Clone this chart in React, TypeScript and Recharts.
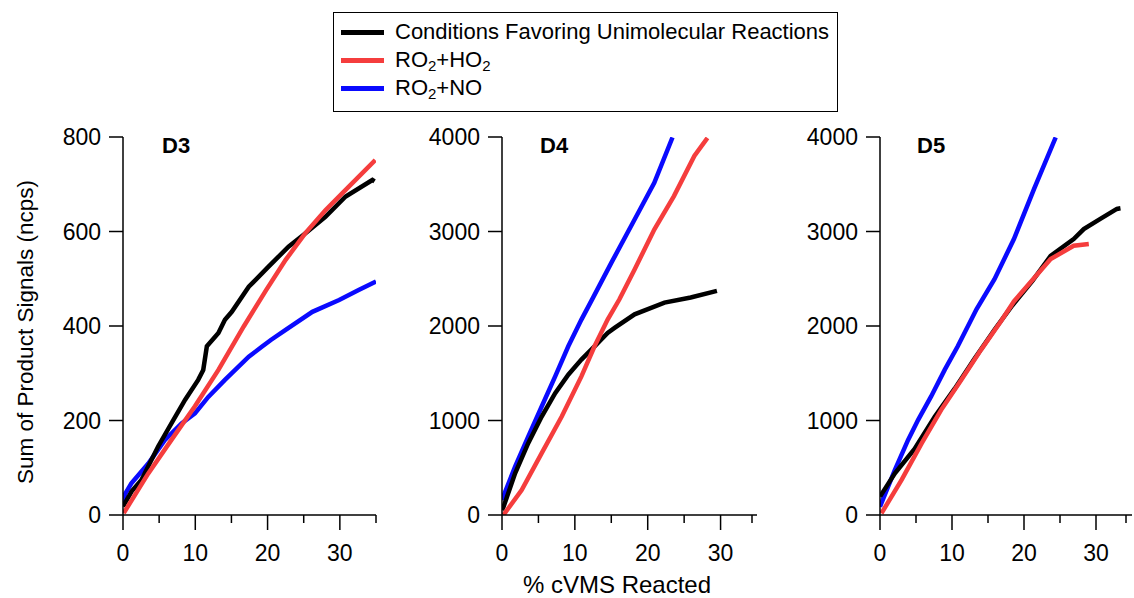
import { LineChart, Line, XAxis, YAxis, Label } from "recharts"

// % cVMS reacted vs. summed product signal as [x, y]
const D3_UNI = [[0, 18], [1.2, 50], [2.55, 74], [4.86, 145], [6.7, 194], [8.6, 244], [10.4, 286], [11.1, 307], [11.6, 357], [13.2, 385], [14.1, 413], [15.05, 430], [17.4, 483], [20.1, 525], [22.9, 568], [25.2, 596], [28, 631], [30.8, 674], [34.5, 709], [34.8, 706]]
const D3_HO2 = [[0.1, 4], [3.5, 88], [6.7, 159], [9.95, 230], [13.2, 307], [16.7, 399], [19.8, 476], [22.5, 540], [25.2, 596], [28, 645], [30.8, 688], [34.9, 751]]
const D3_NO = [[0, 25], [0.3, 45], [1.16, 67], [3.5, 109], [5.8, 159], [8.1, 194], [9.95, 215], [11.8, 250], [14.1, 286], [17.4, 335], [19.2, 356], [20.5, 371], [22.5, 392], [26.2, 430], [29.9, 455], [32.6, 476], [35, 494]]

const D4_UNI = [[0, 53], [0.22, 88], [1.8, 442], [3.6, 760], [5.45, 1042], [7.3, 1290], [9.1, 1485], [10.9, 1644], [12.7, 1785], [14.5, 1927], [15.5, 1982], [18.2, 2124], [22.3, 2248], [25.9, 2301], [29.5, 2371]]
const D4_HO2 = [[0.2, 0], [2.7, 265], [5.45, 654], [8.2, 1042], [10.9, 1467], [12.7, 1785], [14.5, 2068], [16.1, 2280], [18.2, 2598], [20.9, 3021], [23.6, 3375], [26.4, 3800], [28.2, 3990]]
const D4_NO = [[0, 159], [1.8, 512], [3.6, 830], [5.45, 1148], [7.3, 1467], [9.1, 1785], [10.9, 2068], [12.5, 2300], [15, 2668], [18.2, 3127], [20.9, 3515], [23.4, 3995]]

const D5_UNI = [[0, 195], [2.07, 442], [4.8, 700], [7.6, 1040], [10.4, 1340], [13.1, 1650], [15.9, 1960], [18.4, 2220], [21.2, 2480], [23.7, 2743], [26.9, 2920], [28.3, 3026], [30.6, 3133], [32.9, 3239], [33.4, 3245]]
const D5_HO2 = [[0.2, 18], [3, 371], [5.8, 760], [8.5, 1113], [11.3, 1432], [14.05, 1750], [16.8, 2050], [18.6, 2260], [21.2, 2490], [23.7, 2708], [26.9, 2849], [29, 2867]]
const D5_NO = [[0, 88], [2.07, 477], [3.9, 795], [5.3, 1007], [7.1, 1255], [9, 1538], [10.8, 1785], [13.4, 2177], [15.9, 2495], [18.6, 2920], [21.4, 3451], [24.4, 3995]]

const X_TICKS = [0, 5, 10, 15, 20, 25, 30, 35]
const Y_TICKS_D3 = [0, 200, 400, 600, 800]
const Y_TICKS_BIG = [0, 1000, 2000, 3000, 4000]

const COLORS = { uni: "#000000", ho2: "#f53d3d", no: "#0a0aff" }
const FONT = "'Liberation Sans', Arial, sans-serif"

const toPts = (arr: number[][]) => arr.map(([x, y]) => ({ x, y }))

// major ticks get a label and a longer line
const XTick = ({ x, y, payload }: any) => {
  const major = payload.value % 10 === 0
  return (
    <g>
      <line x1={x} x2={x} y1={y} y2={y + (major ? 15 : 8)} stroke="#000" strokeWidth={1.5} />
      {major && (
        <text x={x} y={y + 46} textAnchor="middle" fontSize={23} fill="#000" fontFamily={FONT}>
          {payload.value}
        </text>
      )}
    </g>
  )
}

interface PanelProps {
  left: number
  width: number
  marginLeft: number
  marginRight: number
  yTicks: number[]
  yMax: number
  uni: number[][]
  ho2: number[][]
  no: number[][]
  yLabel?: string
}

function Panel({ left, width, marginLeft, marginRight, yTicks, yMax, uni, ho2, no, yLabel }: PanelProps) {
  return (
    <div style={{ position: "absolute", left, top: 0 }}>
      <LineChart width={width} height={598} margin={{ top: 137, right: marginRight, bottom: 23, left: marginLeft }}>
        <XAxis
          type="number"
          dataKey="x"
          domain={[0, 35]}
          ticks={X_TICKS}
          tick={<XTick />}
          tickLine={false}
          tickSize={0}
          tickMargin={0}
          height={60}
          axisLine={{ stroke: "#000", strokeWidth: 1.5 }}
          allowDataOverflow
        />
        <YAxis
          type="number"
          dataKey="y"
          domain={[0, yMax]}
          ticks={yTicks}
          width={110}
          tickSize={14}
          tickMargin={8}
          tick={{ fill: "#000", fontSize: 23, fontFamily: FONT }}
          tickLine={{ stroke: "#000", strokeWidth: 1.5 }}
          axisLine={{ stroke: "#000", strokeWidth: 1.5 }}
          allowDataOverflow
        >
          {yLabel && (
            <Label
              value={yLabel}
              angle={-90}
              position="insideLeft"
              offset={12}
              dy={6}
              style={{ textAnchor: "middle", fontSize: 22.5, fill: "#000", fontFamily: FONT }}
            />
          )}
        </YAxis>
        <Line data={toPts(no)} dataKey="y" stroke={COLORS.no} strokeWidth={4.5} dot={false} isAnimationActive={false} type="linear" />
        <Line data={toPts(uni)} dataKey="y" stroke={COLORS.uni} strokeWidth={4.5} dot={false} isAnimationActive={false} type="linear" />
        <Line data={toPts(ho2)} dataKey="y" stroke={COLORS.ho2} strokeWidth={4.5} dot={false} isAnimationActive={false} type="linear" />
      </LineChart>
    </div>
  )
}

const legendRow = (color: string, label: React.ReactNode) => (
  <div style={{ display: "flex", alignItems: "center", height: 28 }}>
    <div style={{ width: 43, height: 5, background: color, marginRight: 11 }} />
    <span>{label}</span>
  </div>
)

const subStyle = { fontSize: 15, verticalAlign: "-4px", lineHeight: 0 }

export default function App() {
  return (
    <div style={{ position: "absolute", left: 0, top: 0, width: 1134, height: 598, background: "#fff", fontFamily: FONT, color: "#000" }}>
      <Panel left={0} width={400} marginLeft={13} marginRight={24} yTicks={Y_TICKS_D3} yMax={800} uni={D3_UNI} ho2={D3_HO2} no={D3_NO} yLabel="Sum of Product Signals (ncps)" />
      <Panel left={380} width={380} marginLeft={12} marginRight={3} yTicks={Y_TICKS_BIG} yMax={4000} uni={D4_UNI} ho2={D4_HO2} no={D4_NO} />
      <Panel left={760} width={374} marginLeft={10} marginRight={2} yTicks={Y_TICKS_BIG} yMax={4000} uni={D5_UNI} ho2={D5_HO2} no={D5_NO} />

      {/* panel titles */}
      <div style={{ position: "absolute", left: 162, top: 133, fontSize: 22, fontWeight: "bold" }}>D3</div>
      <div style={{ position: "absolute", left: 540, top: 133, fontSize: 22, fontWeight: "bold" }}>D4</div>
      <div style={{ position: "absolute", left: 917, top: 133, fontSize: 22, fontWeight: "bold" }}>D5</div>

      {/* shared x label */}
      <div style={{ position: "absolute", left: 617, top: 571, transform: "translateX(-50%)", fontSize: 24, whiteSpace: "nowrap" }}>
        % cVMS Reacted
      </div>

      {/* legend */}
      <div style={{ position: "absolute", left: 333, top: 12, width: 505, height: 100, border: "1.5px solid #000", boxSizing: "border-box", padding: "5px 0 0 7px", fontSize: 22 }}>
        {legendRow(COLORS.uni, "Conditions Favoring Unimolecular Reactions")}
        {legendRow(COLORS.ho2, <>RO<sub style={subStyle}>2</sub>+HO<sub style={subStyle}>2</sub></>)}
        {legendRow(COLORS.no, <>RO<sub style={subStyle}>2</sub>+NO</>)}
      </div>
    </div>
  )
}
